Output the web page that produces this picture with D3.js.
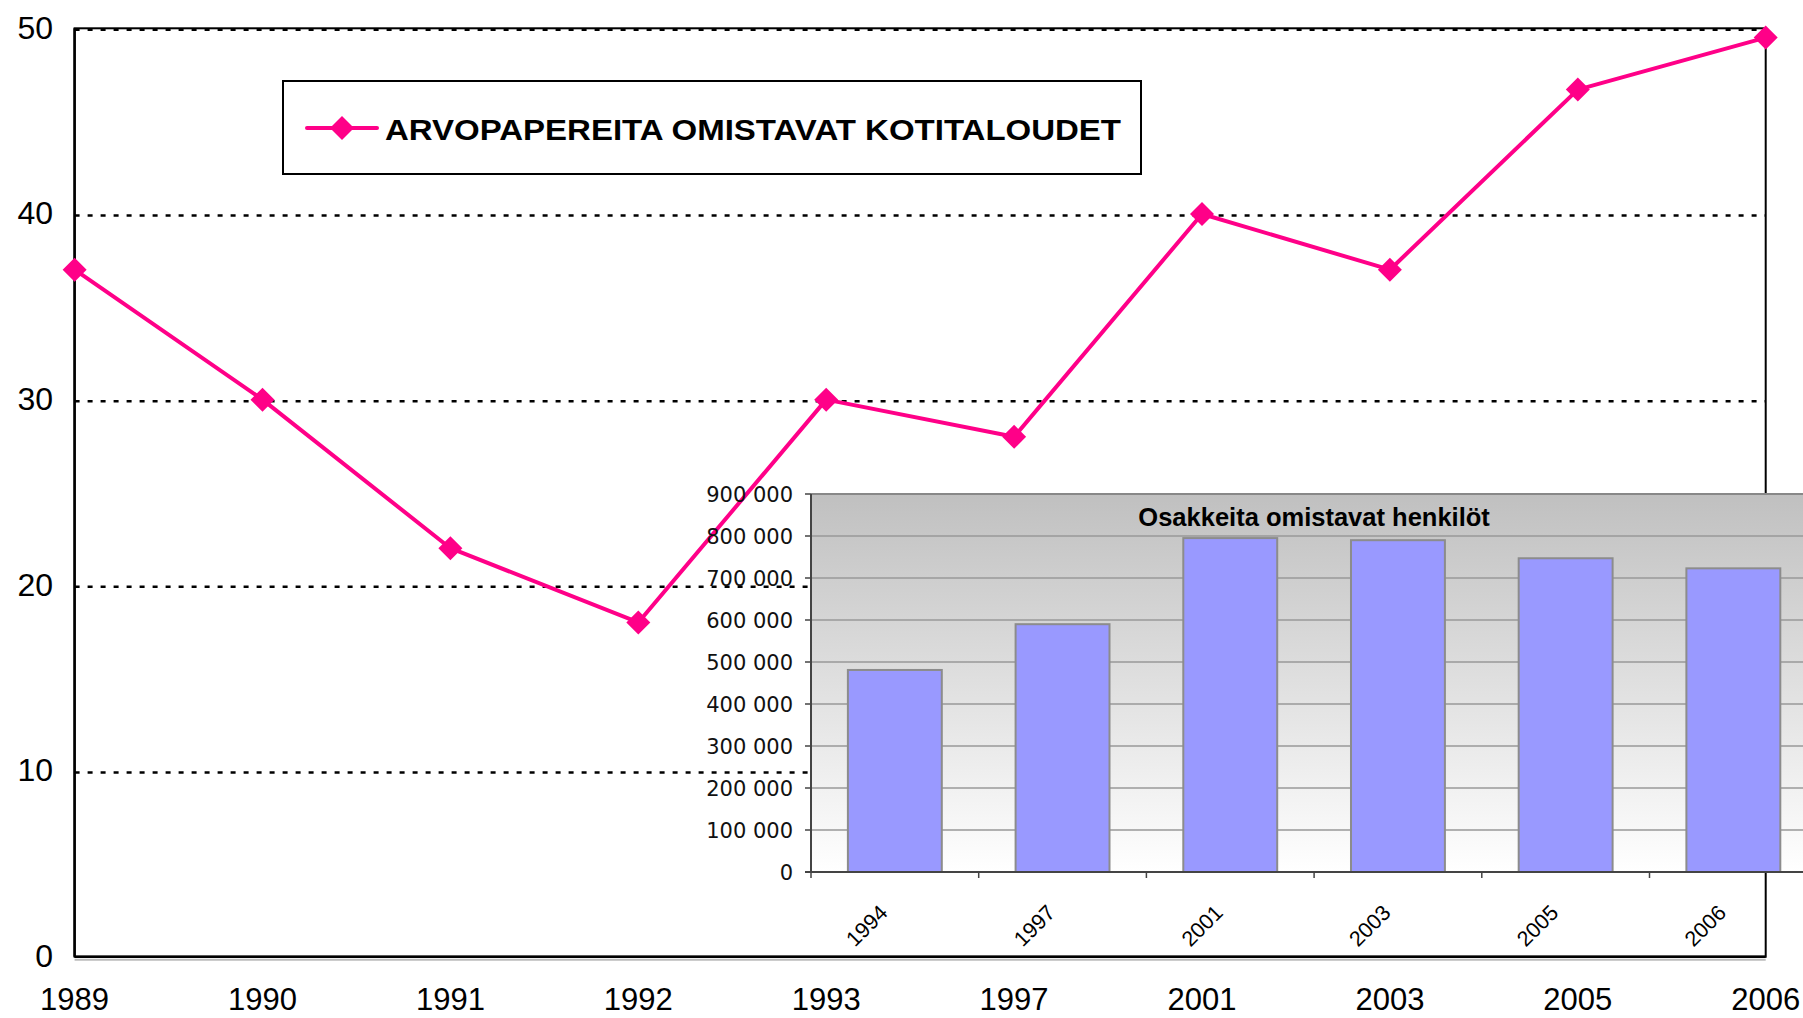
<!DOCTYPE html>
<html>
<head>
<meta charset="utf-8">
<script src="https://cdn.jsdelivr.net/npm/d3@7"></script>
<style>
  body { margin: 0; background: #fff; }
  svg { display: block; }
</style>
</head>
<body>
<svg id="chart" width="1803" height="1018"></svg>
<script>
// main series
const years = ['1989', '1990', '1991', '1992', '1993', '1997', '2001', '2003', '2005', '2006'];
const households = [37, 30, 22, 18, 30, 28, 40, 37, 46.7, 49.5];
const yTicks = [0, 10, 20, 30, 40, 50];
const seriesName = 'ARVOPAPEREITA OMISTAVAT KOTITALOUDET';

// inset bar chart
const insetYears = ['1994', '1997', '2001', '2003', '2005', '2006'];
const shareholders = [481000, 590000, 795000, 790000, 747000, 723000];
const insetTicks = [0, 100000, 200000, 300000, 400000, 500000, 600000, 700000, 800000, 900000];
const insetTitle = 'Osakkeita omistavat henkilöt';

const pink = '#ff0088';
const svg = d3.select('#chart');

// ---- main line chart ----
const plotLeft = 74.6, plotRight = 1765.7, plotTop = 28.3, plotBottom = 956.7;

const x = d3.scalePoint().domain(years).range([plotLeft, plotRight]).padding(0);
const y = d3.scaleLinear().domain([0, 50]).range([plotBottom, plotTop]);

svg.append('rect')
    .attr('x', plotLeft).attr('y', plotTop)
    .attr('width', plotRight - plotLeft).attr('height', plotBottom - plotTop)
    .attr('fill', '#fff')
    .attr('stroke', '#000')
    .attr('stroke-width', 2);

svg.selectAll('line.grid')
    .data(yTicks.filter(t => t > 0))
    .enter()
    .append('line')
    .attr('class', 'grid')
    .attr('x1', plotLeft).attr('x2', plotRight)
    .attr('y1', t => y(t) + 1.5).attr('y2', t => y(t) + 1.5)
    .attr('stroke', '#000')
    .attr('stroke-width', 2.5)
    .attr('stroke-dasharray', '5,8');

// axes lines
svg.append('line')
    .attr('x1', plotLeft).attr('x2', plotLeft).attr('y1', plotTop).attr('y2', plotBottom)
    .attr('stroke', '#000').attr('stroke-width', 2.5);
svg.append('line')
    .attr('x1', plotLeft).attr('x2', plotRight).attr('y1', plotBottom + 3).attr('y2', plotBottom + 3)
    .attr('stroke', '#bbb').attr('stroke-width', 2);
svg.append('line')
    .attr('x1', plotLeft).attr('x2', plotRight).attr('y1', plotBottom).attr('y2', plotBottom)
    .attr('stroke', '#000').attr('stroke-width', 2.5);

svg.selectAll('text.ylab')
    .data(yTicks)
    .enter()
    .append('text')
    .attr('class', 'ylab')
    .attr('x', 53)
    .attr('y', t => y(t))
    .attr('dy', '0.32em')
    .attr('text-anchor', 'end')
    .attr('font-family', 'Liberation Sans, Arial, sans-serif')
    .attr('font-size', 32)
    .text(t => t);

svg.selectAll('text.xlab')
    .data(years)
    .enter()
    .append('text')
    .attr('class', 'xlab')
    .attr('x', d => x(d))
    .attr('y', 1010)
    .attr('text-anchor', 'middle')
    .attr('font-family', 'Liberation Sans, Arial, sans-serif')
    .attr('font-size', 31)
    .text(d => d);

const line = d3.line()
    .x((d, i) => x(years[i]))
    .y(d => y(d));

svg.append('path')
    .datum(households)
    .attr('d', line)
    .attr('fill', 'none')
    .attr('stroke', pink)
    .attr('stroke-width', 4)
    .attr('stroke-linejoin', 'round');

const diamond = 'M0,-12L12,0L0,12L-12,0Z';

svg.selectAll('path.marker')
    .data(households)
    .enter()
    .append('path')
    .attr('class', 'marker')
    .attr('d', diamond)
    .attr('transform', (d, i) => 'translate(' + x(years[i]) + ',' + y(d) + ')')
    .attr('fill', pink);

// legend
const legend = svg.append('g');
legend.append('rect')
    .attr('x', 283).attr('y', 81)
    .attr('width', 858).attr('height', 93)
    .attr('fill', '#fff')
    .attr('stroke', '#000')
    .attr('stroke-width', 2);
legend.append('line')
    .attr('x1', 307).attr('x2', 377).attr('y1', 128).attr('y2', 128)
    .attr('stroke', pink).attr('stroke-width', 4).attr('stroke-linecap', 'round');
legend.append('path')
    .attr('d', diamond)
    .attr('transform', 'translate(342,128)')
    .attr('fill', pink);
legend.append('text')
    .attr('x', 385).attr('y', 140)
    .attr('font-family', 'Liberation Sans, Arial, sans-serif')
    .attr('font-weight', 'bold')
    .attr('font-size', 29)
    .attr('textLength', 736)
    .attr('lengthAdjust', 'spacingAndGlyphs')
    .text(seriesName);

// ---- inset bar chart ----
const iLeft = 811, iRight = 811 + 6 * 167.7, iTop = 494, iBottom = 872;

const bx = d3.scaleBand().domain(insetYears).range([iLeft, iRight])
    .paddingInner(0.44).paddingOuter(0.22);
const by = d3.scaleLinear().domain([0, 900000]).range([iBottom, iTop]);

const fmt = d3.formatLocale({ thousands: ' ', grouping: [3], decimal: ',', currency: ['', ''] }).format(',d');

const grad = svg.append('defs').append('linearGradient')
    .attr('id', 'insetBg')
    .attr('x1', 0).attr('y1', 0).attr('x2', 0).attr('y2', 1);
grad.append('stop').attr('offset', '0%').attr('stop-color', '#c0c0c0');
grad.append('stop').attr('offset', '100%').attr('stop-color', '#ffffff');

const inset = svg.append('g');

inset.append('rect')
    .attr('x', iLeft).attr('y', iTop)
    .attr('width', iRight - iLeft).attr('height', iBottom - iTop)
    .attr('fill', 'url(#insetBg)');

inset.selectAll('line.igrid')
    .data(insetTicks.filter(t => t > 0))
    .enter()
    .append('line')
    .attr('class', 'igrid')
    .attr('x1', iLeft).attr('x2', iRight)
    .attr('y1', t => by(t)).attr('y2', t => by(t))
    .attr('stroke', t => t === 900000 ? '#888' : '#999')
    .attr('stroke-width', t => t === 900000 ? 2 : 1.5);

inset.append('text')
    .attr('x', (iLeft + iRight) / 2)
    .attr('y', 526)
    .attr('text-anchor', 'middle')
    .attr('font-family', 'Liberation Sans, Arial, sans-serif')
    .attr('font-weight', 'bold')
    .attr('font-size', 25.5)
    .text(insetTitle);

inset.selectAll('rect.bar')
    .data(shareholders)
    .enter()
    .append('rect')
    .attr('class', 'bar')
    .attr('x', (d, i) => bx(insetYears[i]))
    .attr('y', d => by(d))
    .attr('width', bx.bandwidth())
    .attr('height', d => iBottom - by(d))
    .attr('fill', '#9999ff')
    .attr('stroke', '#8c8c8c')
    .attr('stroke-width', 2);

// inset y axis
inset.append('line')
    .attr('x1', iLeft).attr('x2', iLeft).attr('y1', iTop).attr('y2', iBottom)
    .attr('stroke', '#444').attr('stroke-width', 2);
inset.selectAll('line.iytick')
    .data(insetTicks)
    .enter()
    .append('line')
    .attr('class', 'iytick')
    .attr('x1', iLeft - 6).attr('x2', iLeft)
    .attr('y1', t => by(t)).attr('y2', t => by(t))
    .attr('stroke', '#444').attr('stroke-width', 1.5);
inset.selectAll('text.iylab')
    .data(insetTicks)
    .enter()
    .append('text')
    .attr('class', 'iylab')
    .attr('x', 793)
    .attr('y', t => by(t))
    .attr('dy', '0.36em')
    .attr('text-anchor', 'end')
    .attr('font-family', 'DejaVu Sans, Verdana, sans-serif')
    .attr('font-size', 21)
    .attr('fill', '#111')
    .text(t => fmt(t));

// inset x axis
inset.append('line')
    .attr('x1', iLeft - 6).attr('x2', iRight).attr('y1', iBottom).attr('y2', iBottom)
    .attr('stroke', '#444').attr('stroke-width', 2);
inset.selectAll('line.ixtick')
    .data(insetYears)
    .enter()
    .append('line')
    .attr('class', 'ixtick')
    .attr('x1', d => bx(d) - bx.step() * 0.22).attr('x2', d => bx(d) - bx.step() * 0.22)
    .attr('y1', iBottom).attr('y2', iBottom + 6)
    .attr('stroke', '#444').attr('stroke-width', 1.5);
inset.selectAll('text.ixlab')
    .data(insetYears)
    .enter()
    .append('text')
    .attr('class', 'ixlab')
    .attr('transform', d => 'translate(' + (bx(d) + bx.bandwidth() / 2 - 6) + ',' + (iBottom + 42) + ') rotate(-45)')
    .attr('text-anchor', 'end')
    .attr('font-family', 'Liberation Sans, Arial, sans-serif')
    .attr('font-size', 21.5)
    .text(d => d);
</script>
</body>
</html>
